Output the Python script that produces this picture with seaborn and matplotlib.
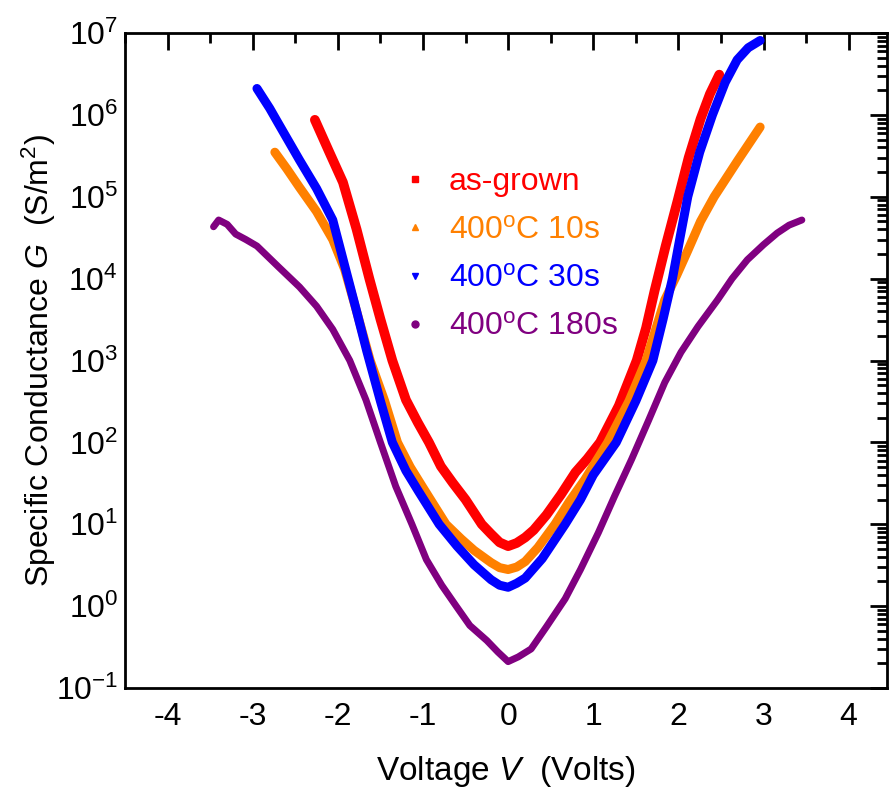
import matplotlib
matplotlib.use("Agg")
import matplotlib.pyplot as plt
from matplotlib.lines import Line2D
from matplotlib.ticker import LogLocator, MultipleLocator, NullFormatter
import seaborn as sns
import pandas as pd

# --- data (V in volts, G in S/m^2) ---
grown_v = [-2.27, -2.10, -1.94, -1.78, -1.63, -1.50, -1.36, -1.20, -1.06, -0.93, -0.79, -0.65, -0.50,
           -0.31, -0.20, -0.10, 0.00, 0.10, 0.20, 0.30, 0.45, 0.62, 0.79, 0.93, 1.08, 1.30, 1.51,
           1.62, 1.72, 1.85, 1.99, 2.12, 2.26, 2.37, 2.48]
grown_g = [8.7e5, 3.5e5, 1.5e5, 4.0e4, 1.0e4, 3.2e3, 1.0e3, 330, 174, 100, 51, 32, 20,
           10, 7.6, 6.0, 5.4, 5.9, 6.9, 8.5, 13, 23, 43, 63, 100, 280, 1.0e3,
           2.5e3, 7.1e3, 2.5e4, 8.9e4, 3.0e5, 8.9e5, 1.8e6, 3.1e6]

s10_v = [-2.74, -2.60, -2.45, -2.25, -2.06, -1.92, -1.78, -1.62, -1.45, -1.30, -1.15, -1.00, -0.73,
         -0.55, -0.40, -0.20, -0.10, 0.00, 0.10, 0.20, 0.35, 0.55, 0.72, 0.90, 1.17, 1.42, 1.62,
         1.84, 1.98, 2.11, 2.26, 2.42, 2.70, 2.96]
s10_g = [3.5e5, 2.2e5, 1.3e5, 6.6e4, 3.0e4, 1.3e4, 4.0e3, 1.0e3, 320, 100, 50, 28, 10,
         6.6, 4.8, 3.4, 2.95, 2.8, 3.0, 3.5, 5.2, 10, 19, 35, 100, 320, 1.0e3,
         5.5e3, 1.1e4, 2.2e4, 5.0e4, 1.0e5, 2.8e5, 7.1e5]

s30_v = [-2.95, -2.80, -2.70, -2.45, -2.25, -2.06, -1.90, -1.78, -1.66, -1.50, -1.36, -1.20, -1.05,
         -0.81, -0.60, -0.40, -0.20, -0.10, 0.00, 0.10, 0.20, 0.40, 0.67, 0.85, 1.00, 1.27, 1.50,
         1.70, 1.82, 1.93, 2.02, 2.11, 2.25, 2.40, 2.55, 2.69, 2.82, 2.96]
s30_g = [2.1e6, 1.2e6, 7.9e5, 2.8e5, 1.26e5, 5.2e4, 1.2e4, 4.0e3, 1.3e3, 320, 100, 45, 25,
         10, 5.4, 3.2, 2.1, 1.8, 1.7, 1.9, 2.2, 3.8, 10, 20, 40, 100, 320,
         1.0e3, 3.2e3, 1.0e4, 3.2e4, 1.0e5, 3.5e5, 1.0e6, 2.5e6, 4.7e6, 6.6e6, 8.1e6]

s180_v = [-3.46, -3.40, -3.30, -3.20, -3.08, -2.95, -2.70, -2.45, -2.25, -2.06, -1.86, -1.67, -1.50,
          -1.32, -1.13, -0.96, -0.78, -0.61, -0.45, -0.25, -0.12, 0.00, 0.12, 0.27, 0.45, 0.67,
          0.85, 1.06, 1.25, 1.45, 1.65, 1.84, 2.03, 2.23, 2.46, 2.63, 2.81, 3.00, 3.16, 3.30, 3.45]
s180_g = [4.3e4, 5.2e4, 4.6e4, 3.5e4, 3.0e4, 2.5e4, 1.4e4, 7.9e3, 4.6e3, 2.4e3, 1.0e3, 330, 100,
          29, 10, 3.7, 1.8, 1.0, 0.58, 0.38, 0.275, 0.21, 0.24, 0.30, 0.56, 1.23,
          2.8, 7.9, 22, 62, 186, 540, 1.26e3, 2.6e3, 5.5e3, 1.0e4, 1.7e4, 2.6e4, 3.6e4, 4.5e4, 5.2e4]

labels = ["as-grown", r"400$^{\mathregular{o}}$C 10s", r"400$^{\mathregular{o}}$C 30s", r"400$^{\mathregular{o}}$C 180s"]
colors = ["#FF0000", "#FF8000", "#0000FF", "#800080"]
markers = ["s", "^", "v", "o"]

frames = []
for lab, v, g in zip(labels, [grown_v, s10_v, s30_v, s180_v], [grown_g, s10_g, s30_g, s180_g]):
    frames.append(pd.DataFrame({"V": v, "G": g, "sample": lab}))
df = pd.concat(frames, ignore_index=True)

sns.set_style("white")
plt.rcParams["font.family"] = ["Liberation Sans", "DejaVu Sans"]
plt.rcParams["mathtext.fontset"] = "custom"
plt.rcParams["mathtext.rm"] = "Liberation Sans"
plt.rcParams["mathtext.it"] = "Liberation Sans:italic"
plt.rcParams["axes.unicode_minus"] = False
for k in ["text.color", "axes.labelcolor", "xtick.color", "ytick.color"]:
    plt.rcParams[k] = "black"

fig = plt.figure(figsize=(8.89, 7.92), dpi=100)
ax = fig.add_axes([125 / 889, 1 - 688 / 792, 762 / 889, 655 / 792])

sns.lineplot(data=df, x="V", y="G", hue="sample", palette=dict(zip(labels, colors)),
             sort=False, estimator=None, linewidth=6.5, legend=False, ax=ax,
             solid_capstyle="round", solid_joinstyle="round")
# purple curve is drawn thinner in the original
for line, lw in zip(ax.get_lines(), [7, 6.5, 6.5, 5]):
    line.set_linewidth(lw)

ax.set_yscale("log")
ax.set_xlim(-4.5, 4.45)
ax.set_ylim(1e-1, 1e7)

ax.xaxis.set_major_locator(MultipleLocator(1))
ax.xaxis.set_minor_locator(MultipleLocator(0.5))
ax.yaxis.set_major_locator(LogLocator(base=10, numticks=20))
ax.yaxis.set_minor_locator(LogLocator(base=10, subs=range(2, 10), numticks=20))
ax.yaxis.set_minor_formatter(NullFormatter())

ax.tick_params(which="both", direction="in", top=True, right=True, width=2, colors="black")
ax.tick_params(which="major", length=12, labelsize=23, pad=5)
ax.tick_params(which="minor", length=7)
ax.tick_params(axis="x", which="major", pad=10)
for s in ax.spines.values():
    s.set_linewidth(2)
    s.set_color("black")

ax.set_xlabel(r"Voltage $V$  (Volts)", fontsize=24, labelpad=16)
ax.set_ylabel(r"Specific Conductance $G$  (S/m$^{\mathregular{2}}$)", fontsize=23, labelpad=-2)

handles = [Line2D([], [], linestyle="none", marker=m, color=c, markersize=5) for m, c in zip(markers, colors)]
leg = ax.legend(handles, labels, loc="upper left", bbox_to_anchor=(0.36, 0.795), frameon=False,
                fontsize=23, handlelength=1.0, handletextpad=0.55, labelspacing=0.57,
                borderpad=0, borderaxespad=0)
for t, c in zip(leg.get_texts(), colors):
    t.set_color(c)

fig.savefig("out.png", dpi=100)
